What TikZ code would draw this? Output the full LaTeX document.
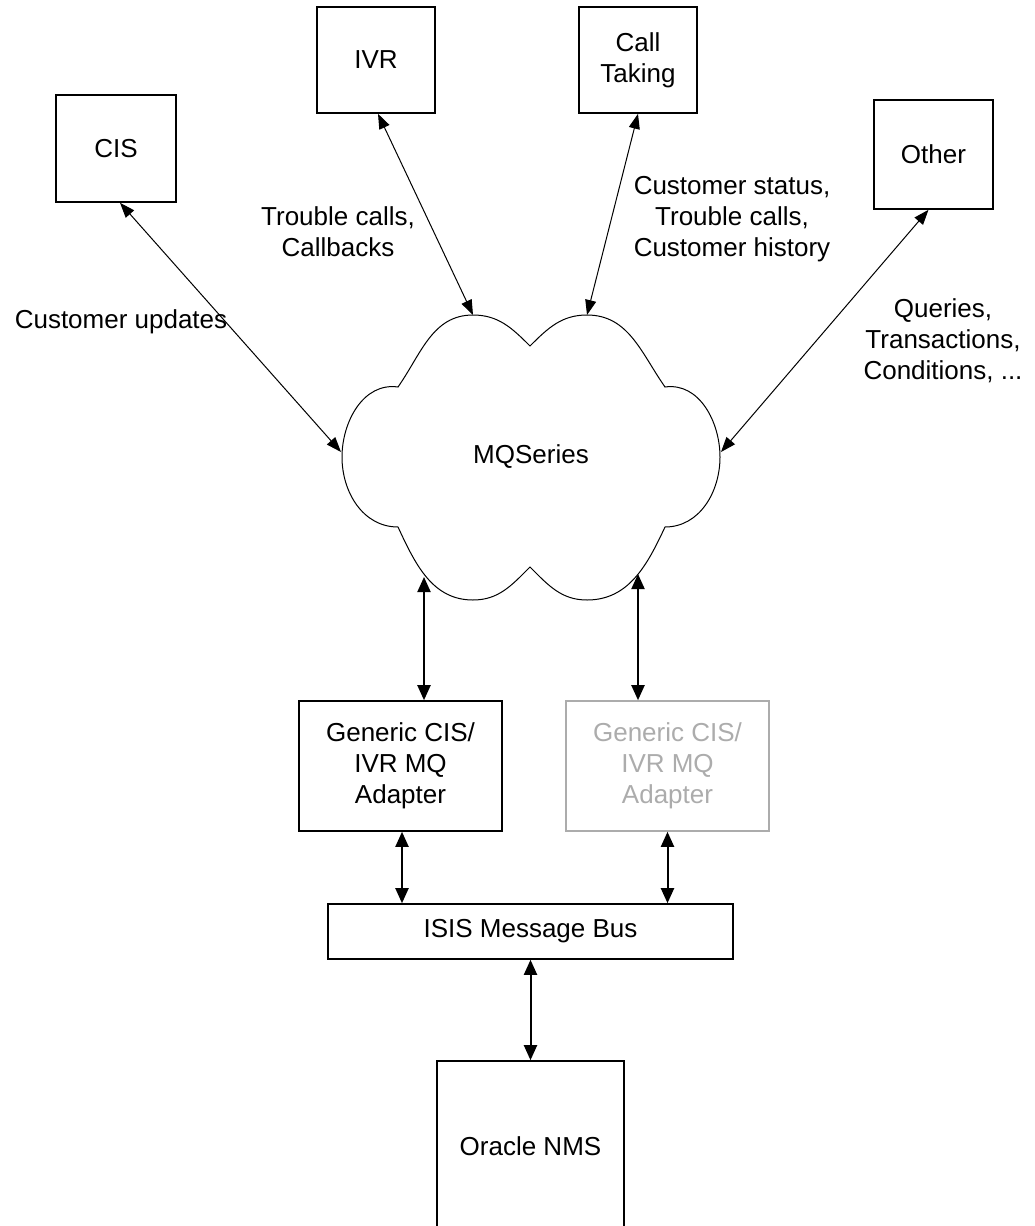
\documentclass[tikz,border=0pt]{standalone}
\usepackage{fontspec}
\setmainfont{Liberation Sans}
\usetikzlibrary{arrows.meta}
\definecolor{fadegray}{RGB}{172,172,172}
\begin{document}
\begin{tikzpicture}[x=1pt,y=1pt,
  every node/.style={font=\fontsize{26}{31}\selectfont, align=center, inner sep=0pt},
  box/.style={draw, line width=1.6pt, minimum width=#1},
  thinarrow/.style={line width=1pt, {Triangle[length=15pt,width=11pt]}-{Triangle[length=15pt,width=11pt]}},
  thickarrow/.style={line width=2pt, {Triangle[length=15pt,width=13pt]}-{Triangle[length=15pt,width=13pt]}},
  cloudline/.style={line width=1pt}]
\useasboundingbox (0,0) rectangle (1035,-1226);
\clip (0,0) rectangle (1035,-1226);

% boxes
\node[box=120pt, minimum height=107pt] (cis) at (116,-148.5) {CIS};
\node[box=118pt, minimum height=106pt] (ivr) at (376,-60) {IVR};
\node[box=118pt, minimum height=106pt] (call) at (638,-60) {Call\\Taking};
\node[box=119pt, minimum height=109pt] (other) at (933.5,-154.5) {Other};
\node[box=203pt, minimum height=130pt] (ad1) at (400.5,-766) {Generic CIS/\\IVR MQ\\Adapter};
\node[box=203pt, minimum height=130pt, draw=fadegray, text=fadegray] (ad2) at (667.5,-766) {Generic CIS/\\IVR MQ\\Adapter};
\node[box=405pt, minimum height=55pt] (bus) at (530.5,-931.5) {ISIS Message Bus};
\node[box=187pt, minimum height=178pt] (oracle) at (530.5,-1150) {\raisebox{7pt}{Oracle NMS}};

% cloud
\draw[cloudline] (530,-346) to[out=135,in=0] (473,-315) to[out=180,in=55] (398,-387)
  to[out=172,in=90] (342,-457) to[out=-90,in=180] (398,-527)
  to[out=-65,in=180] (473,-600) to[out=0,in=-135] (530,-567)
  to[out=-45,in=180] (587,-600) to[out=0,in=-115] (665,-527)
  to[out=0,in=-90] (720,-457) to[out=90,in=8] (665,-387)
  to[out=125,in=0] (587,-315) to[out=180,in=45] (530,-346) -- cycle;
\node (mq) at (531,-457) {MQSeries};
\coordinate (cl) at (341,-452);
\coordinate (ctl) at (473,-315);
\coordinate (ctr) at (587,-315);
\coordinate (cr) at (721,-452);
\coordinate (cbl) at (424,-577);
\coordinate (cbr) at (638,-574);

% labels
\node (lcis) at (121,-322) {Customer updates};
\node (livr) at (338,-232) {Trouble calls,\\Callbacks};
\node (lcall) at (732,-219) {Customer status,\\Trouble calls,\\Customer history};
\node (lother) at (943,-341) {Queries,\\Transactions,\\Conditions, ...};

% connectors
\draw[thinarrow] (cis.south) ++(4,0) coordinate (cisb) -- (cl);
\draw[thinarrow] (ivr.south) ++(2,0) coordinate (ivrb) -- (ctl);
\draw[thinarrow] (call.south) -- (ctr);
\draw[thinarrow] (other.south) ++(-5,0) coordinate (otherb) -- (cr);
\draw[thickarrow] (cbl) -- (cbl |- ad1.north);
\draw[thickarrow] (cbr) -- (cbr |- ad2.north);
\draw[thickarrow] ([xshift=1.5pt]ad1.south) -- ([xshift=1.5pt]ad1.south |- bus.north);
\draw[thickarrow] (ad2.south) -- (ad2.south |- bus.north);
\draw[thickarrow] (bus.south) -- (oracle.north);
\end{tikzpicture}
\end{document}
